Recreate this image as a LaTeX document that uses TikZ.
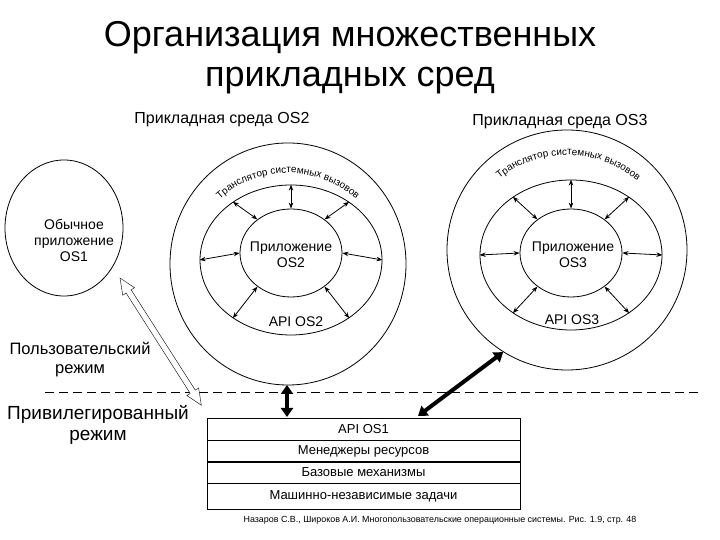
\documentclass[tikz,border=0pt]{standalone}
\usepackage{fontspec}
\setmainfont{Liberation Sans}
\usetikzlibrary{shapes.geometric,arrows.meta,decorations.text}
\begin{document}
\begin{tikzpicture}[x=1pt,y=1pt,
  lbl/.style={font=\fontsize{14}{16}\selectfont, align=center},
  ring/.style={draw, thick, ellipse, inner sep=0pt},
  rad/.style={thick, {Stealth[length=6pt]}-{Stealth[length=6pt]}},
  big/.style={line width=4pt, {Triangle[length=9pt,width=12pt]}-{Triangle[length=9pt,width=12pt]}},
  trans/.style={font=\bfseries\fontsize{21}{21}\selectfont, decorate, decoration={text along path, text align=center,
     text={Транслятор системных вызовов}}},
  row/.style={draw, minimum width=313pt, anchor=north, font=\fontsize{13}{15}\selectfont, inner sep=0pt}]
\useasboundingbox (0,0) rectangle (720,540);
% title
\node[font=\fontsize{36}{40}\selectfont, align=center] (title) at (350,482) {Организация множественных\\прикладных сред};
\node[lbl, font=\fontsize{16}{18}\selectfont] (t2) at (222,420) {Прикладная среда OS2};
\node[lbl, font=\fontsize{16}{18}\selectfont] (t3) at (560,418) {Прикладная среда OS3};
% OS1
\node[ring, minimum width=118pt, minimum height=136pt] (os1) at (64,312) {};
\node[lbl] (os1t) at (74,300) {Обычное\\приложение\\OS1};
% OS2
\node[ring, minimum width=236pt, minimum height=242pt] (out2) at (288,276) {};
\node[ring, minimum width=182pt, minimum height=150pt] (mid2) at (291,280) {};
\node[ring, minimum width=102pt, minimum height=88pt] (in2) at (291,287) {};
\node[lbl] (in2t) at (291,285) {Приложение\\OS2};
\node[lbl] (api2) at (296,218) {API OS2};
\foreach \a in {0,45,90,135,180,225,315} \draw[rad] (in2.\a) -- (mid2.\a);
% OS3
\node[ring, minimum width=240pt, minimum height=240pt] (out3) at (567,290) {};
\node[ring, minimum width=182pt, minimum height=150pt] (mid3) at (571,285) {};
\node[ring, minimum width=102pt, minimum height=88pt] (in3) at (571,287) {};
\node[lbl] (in3t) at (573,285) {Приложение\\OS3};
\node[lbl] (api3) at (572,220) {API OS3};
\foreach \a in {0,45,90,135,180,225,315} \draw[rad] (in3.\a) -- (mid3.\a);
\path[trans] (288,278) ++(195:96 and 89) arc[start angle=195, end angle=-15, x radius=96, y radius=89];
\path[trans] (567,290) ++(195:102 and 95) arc[start angle=195, end angle=-17, x radius=102, y radius=95];
% modes
\node[lbl, font=\fontsize{16.5}{19}\selectfont] (user) at (80,180) {Пользовательский\\режим};
\node[lbl, font=\fontsize{19}{21}\selectfont] (priv) at (98,115) {Привилегированный\\режим};
\coordinate (dl) at (45,148); \coordinate (dr) at (700,148);
\draw[thick, dash pattern=on 9pt off 5pt] (dl) -- (dr);
% box
\node[row, minimum height=22pt] (r1) at (363.5,122) {API OS1};
\node[row, minimum height=21pt] (r2) at (r1.south) {Менеджеры ресурсов};
\node[row, minimum height=21pt] (r3) at (r2.south) {Базовые механизмы};
\node[row, minimum height=26pt] (r4) at (r3.south) {Машинно-независимые задачи};
\draw[line width=1.5pt] (r1.south west) -- (r1.south east);
\node[font=\fontsize{8.9}{10}\selectfont] (cite) at (440,20) {Назаров С.В., Широков А.И. Многопользовательские операционные системы. Рис. 1.9, стр. 48};
% arrows
\draw[big] (287,155) -- (287,123);
\draw[big] (out3.238) -- (418,124);
\begin{scope}[shift={(120,262)}, rotate=-57.4]
\draw[fill=white] (0,0)--(16,7)--(16,3)--(135,3)--(135,7)--(151,0)--(135,-7)--(135,-3)--(16,-3)--(16,-7)--cycle;
\end{scope}
\end{tikzpicture}
\end{document}
